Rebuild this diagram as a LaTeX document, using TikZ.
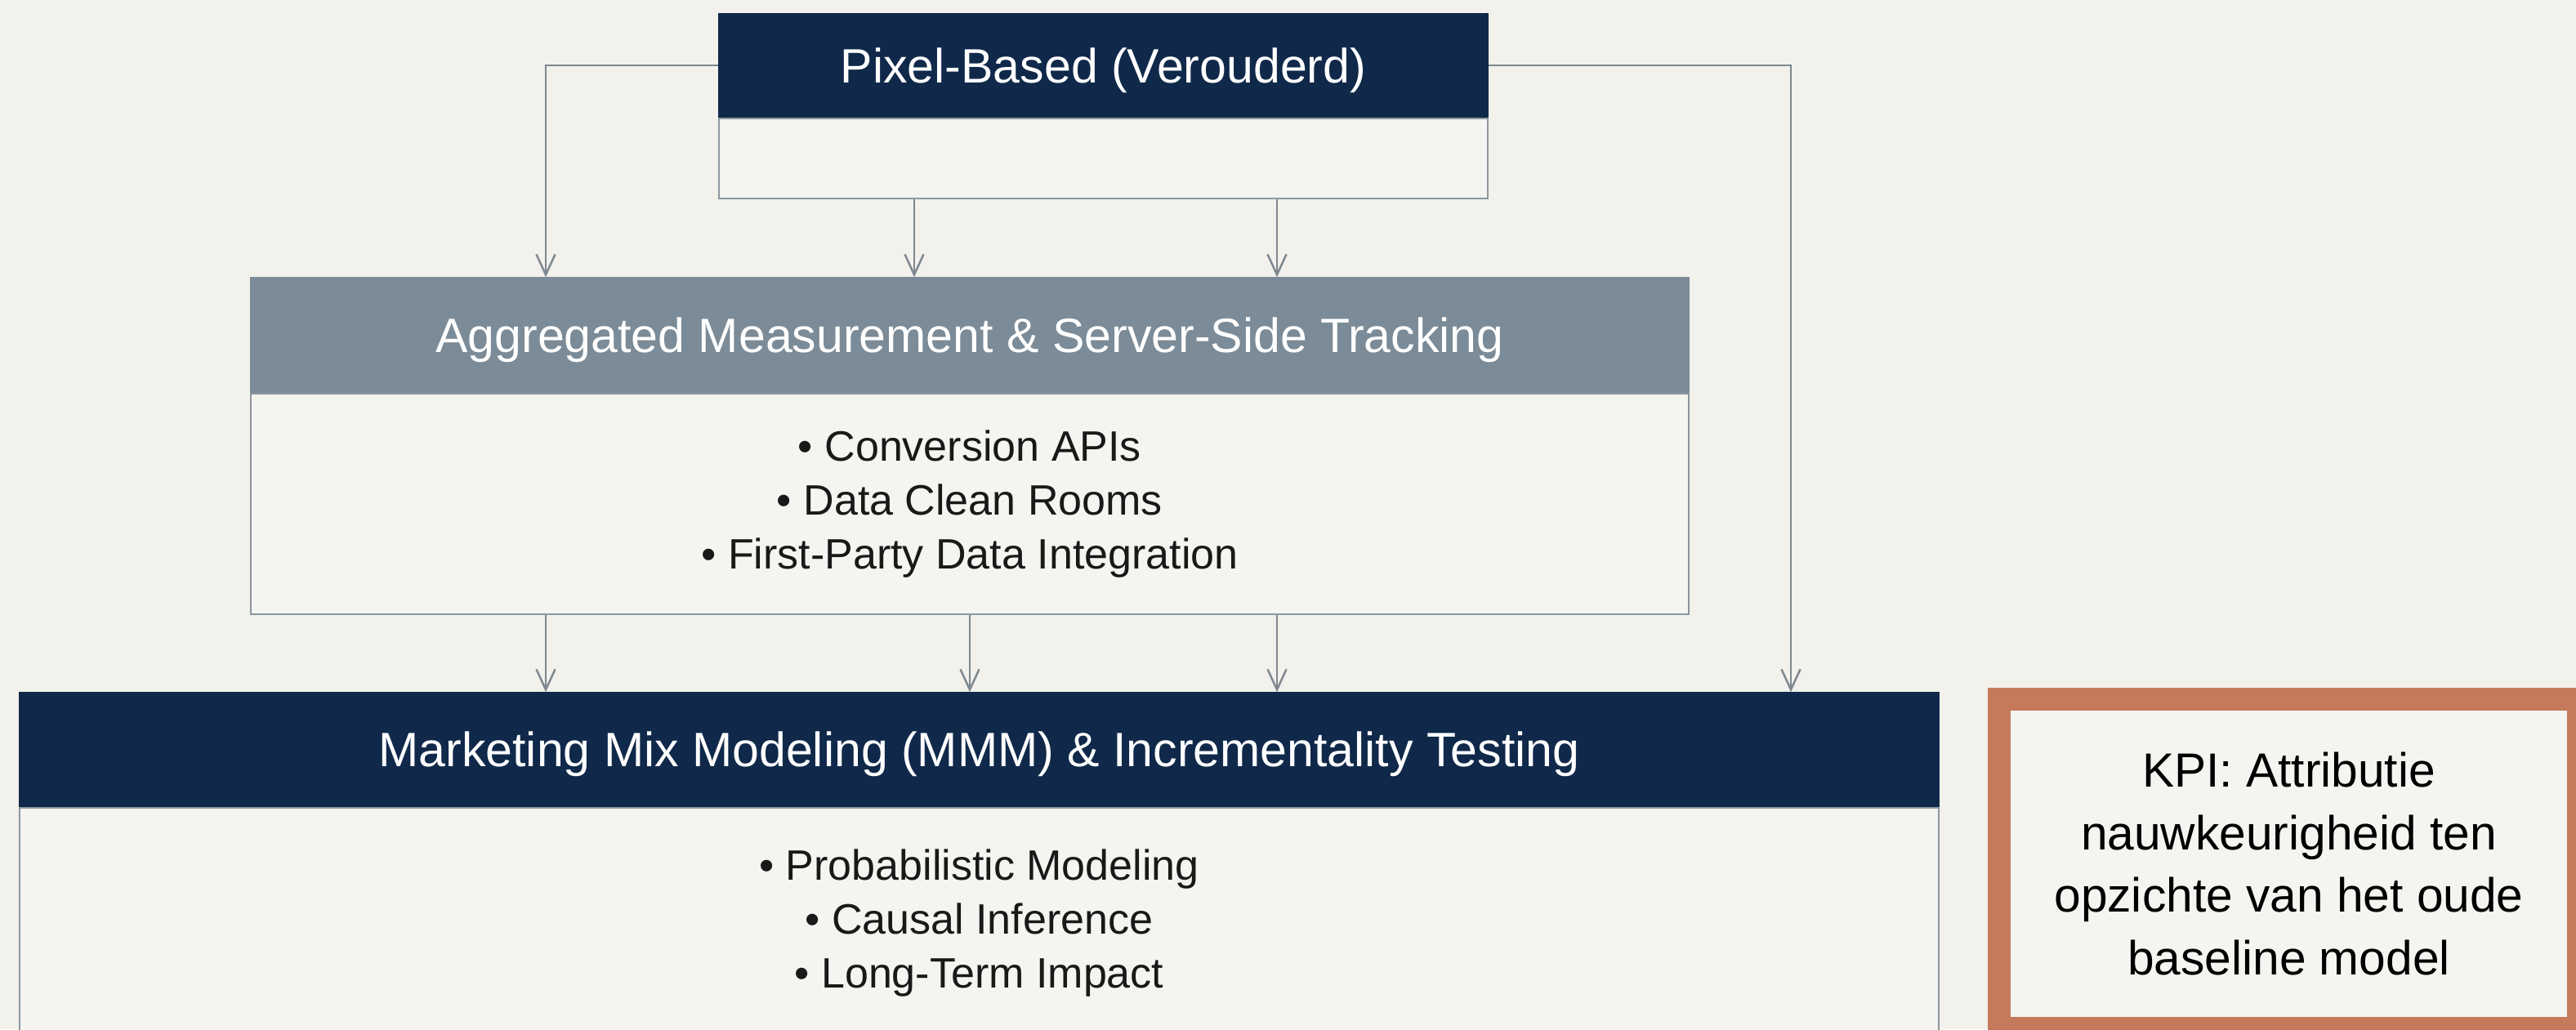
\documentclass[tikz,border=0pt]{standalone}
\usepackage{fontspec}
\setmainfont{Liberation Sans}
\usetikzlibrary{positioning,arrows.meta}
\definecolor{navy}{HTML}{10294A}
\definecolor{slate}{HTML}{7B8B97}
\definecolor{paper}{HTML}{F2F1EC}
\definecolor{boxfill}{HTML}{F4F4F0}
\definecolor{edge}{HTML}{8C979F}
\definecolor{rust}{HTML}{C67A5C}
\newcommand*{\headstyle}{\fontsize{16.8}{20}\selectfont}
\newcommand*{\itemstyle}{\fontsize{14.8}{18.8}\selectfont}
\newcommand{\tierbox}[8]{%
% name, centre of header, width, header height, body height,
% header colour, title, items
  \node[head, fill = #6, draw = #6, minimum width = #3,
    minimum height = #4] (#1head) at (#2) {#7};
  \node[body, minimum width = #3, minimum height = #5,
    below = 0pt of #1head] (#1body) {#8};
}

\begin{document}
\begin{tikzpicture}[
    head/.style = {rectangle, inner sep = 0pt, text = white, text depth = 0pt,
      font = \headstyle},
    body/.style = {rectangle, inner sep = 0pt, draw = edge, fill = boxfill,
      line width = 0.6pt, align = center, text = black!90, font = \itemstyle},
    kpi/.style = {rectangle, inner sep = 0pt, draw = rust, fill = boxfill,
      line width = 0.28cm, align = center, text = black,
      font = \fontsize{16.7}{21.8}\selectfont},
    flow/.style = {draw = edge!90!black, line width = 0.7pt,
      -{Straight Barb[length = 2.5mm, width = 2.3mm]}}
  ]
  \useasboundingbox (0,0) rectangle (31.53,12.60);
  \clip (0,0) rectangle (31.53,12.60);
  \fill[paper] (0,0) rectangle (31.53,12.60);

  \tierbox{pix}{13.505,11.80}{9.41cm}{1.26cm}{0.98cm}{navy}
    {Pixel-Based (Verouderd)}{}
  \tierbox{agg}{11.87,8.50}{17.60cm}{1.40cm}{2.70cm}{slate}
    {Aggregated Measurement \& Server-Side Tracking}
    {• Conversion APIs\\• Data Clean Rooms\\• First-Party Data Integration}
  \tierbox{mmm}{11.985,3.425}{23.49cm}{1.39cm}{2.82cm}{navy}
    {Marketing Mix Modeling (MMM) \& Incrementality Testing}
    {• Probabilistic Modeling\\• Causal Inference\\• Long-Term Impact}

  \node[kpi, minimum width = 7.09cm, minimum height = 4.03cm] (kpi)
    at (28.015,2.025)
    {KPI: Attributie\\nauwkeurigheid ten\\opzichte van het oude\\baseline model};

  % connectors
  \draw[flow] (pixhead.west) -| (agghead.north -| 6.68,0);
  \draw[flow] (pixhead.east) -| (mmmhead.north -| 21.92,0);
  \foreach \x in {11.19,15.63}
    \draw[flow] (pixbody.south -| \x,0) -- (agghead.north -| \x,0);
  \foreach \x in {6.68,11.87,15.63}
    \draw[flow] (aggbody.south -| \x,0) -- (mmmhead.north -| \x,0);

\end{tikzpicture}
\end{document}
